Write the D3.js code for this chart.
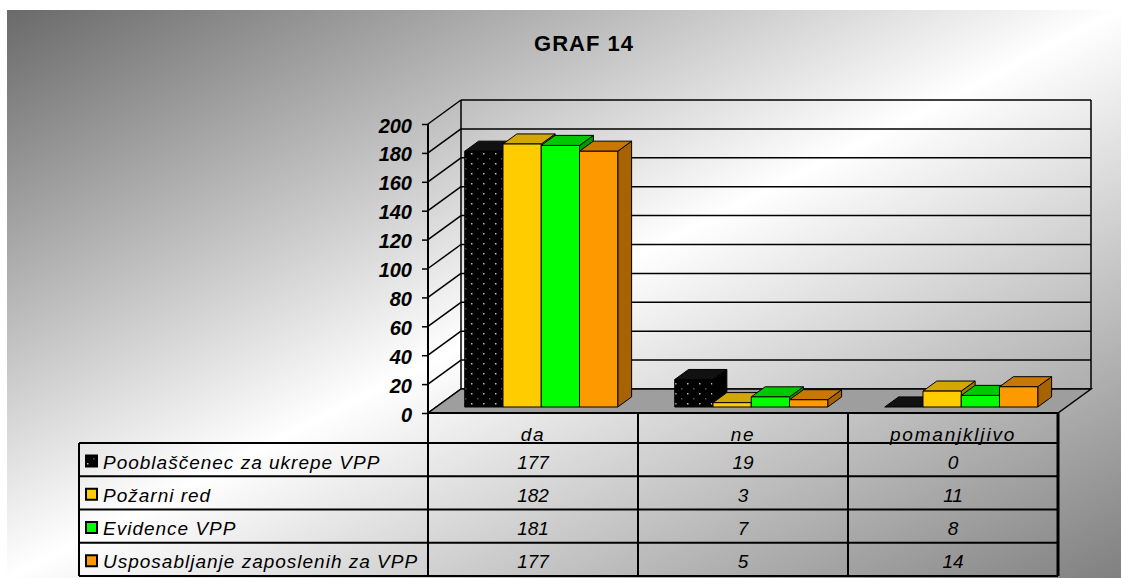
<!DOCTYPE html>
<html lang="sl">
    <head>
        <meta charset="utf-8">
        <title>GRAF 14</title>
        <script src="https://cdn.jsdelivr.net/npm/d3@7/dist/d3.min.js"></script>
        <style type="text/css">
            body { margin: 0; background: #fff; }
            svg { display: block; font-family: "Liberation Sans", Arial, sans-serif; }
        </style>
    </head>
    <body>
        <script type="text/javascript">
            // data
            var categories = ['da', 'ne', 'pomanjkljivo'];
            var seriesNames = ['Pooblaščenec za ukrepe VPP', 'Požarni red', 'Evidence VPP', 'Usposabljanje zaposlenih za VPP'];
            var pooblascenec = [177, 19, 0];
            var pozarniRed = [182, 3, 11];
            var evidence = [181, 7, 8];
            var usposabljanje = [177, 5, 14];
            var yTicks = [0, 20, 40, 60, 80, 100, 120, 140, 160, 180, 200];

            var seriesValues = [pooblascenec, pozarniRed, evidence, usposabljanje];

            // colours: front, top, side
            var palette = [
              ['url(#dots)', '#111', '#000'],
              ['#ffcc00', '#d2a800', '#9c7c00'],
              ['#00ff00', '#00c800', '#009a00'],
              ['#ff9900', '#c87800', '#a86200']
            ];

            var w = 1121, h = 578;
            var depth = {dx: 33, dy: -24};
            var t1 = 0.25, t2 = 0.67;   // bar position in the depth

            var svg = d3.select('body').append('svg')
                        .attr('width', w)
                        .attr('height', h);

            var defs = svg.append('defs');
            var grad = defs.append('linearGradient')
                           .attr('id', 'bg')
                           .attr('x1', 0).attr('y1', 0).attr('x2', 1).attr('y2', 1);
            grad.append('stop').attr('offset', 0).attr('stop-color', '#6a6a6a');
            grad.append('stop').attr('offset', 0.5).attr('stop-color', '#ffffff');
            grad.append('stop').attr('offset', 1).attr('stop-color', '#808080');

            var pat = defs.append('pattern')
                          .attr('id', 'dots')
                          .attr('patternUnits', 'userSpaceOnUse')
                          .attr('width', 12).attr('height', 10);
            pat.append('rect').attr('width', 12).attr('height', 10).attr('fill', '#000');
            pat.append('rect').attr('x', 3).attr('y', 3).attr('width', 1.5).attr('height', 1.5).attr('fill', '#bbb');
            pat.append('rect').attr('x', 9).attr('y', 8).attr('width', 1.5).attr('height', 1.5).attr('fill', '#555');

            svg.append('rect')
               .attr('x', 7).attr('y', 10)
               .attr('width', w - 7).attr('height', h - 10)
               .attr('fill', 'url(#bg)');

            // title
            svg.append('text')
               .attr('x', 584).attr('y', 51)
               .attr('text-anchor', 'middle')
               .attr('font-weight', 'bold')
               .attr('font-size', '22px')
               .attr('letter-spacing', '1px')
               .text('GRAF 14');

            // scales
            var left = 428, right = 1058;
            var yScale = d3.scaleLinear().domain([0, 200]).range([413, 124]);
            var xScale = d3.scaleBand().domain(categories).range([left, right]);
            var xSeries = d3.scaleBand().domain(seriesNames)
                            .range([0, xScale.bandwidth()])
                            .paddingOuter(0.745);

            var y0 = yScale(0);

            // left wall and back wall grid
            var grid = svg.append('g').attr('stroke', '#000').attr('stroke-width', 1.5).attr('fill', 'none');
            grid.selectAll('line.side')
                .data(yTicks)
                .enter()
                .append('line')
                .attr('x1', left).attr('y1', function(d) { return yScale(d); })
                .attr('x2', left + depth.dx).attr('y2', function(d) { return yScale(d) + depth.dy; });
            grid.selectAll('line.back')
                .data(yTicks)
                .enter()
                .append('line')
                .attr('x1', left + depth.dx).attr('y1', function(d) { return yScale(d) + depth.dy; })
                .attr('x2', right + depth.dx).attr('y2', function(d) { return yScale(d) + depth.dy; });
            grid.append('line')
                .attr('x1', left + depth.dx).attr('y1', yScale(200) + depth.dy)
                .attr('x2', left + depth.dx).attr('y2', y0 + depth.dy);
            grid.append('line')
                .attr('x1', right + depth.dx).attr('y1', yScale(200) + depth.dy)
                .attr('x2', right + depth.dx).attr('y2', y0 + depth.dy);

            // floor
            svg.append('polygon')
               .attr('points', [[left, y0], [right, y0], [right + depth.dx, y0 + depth.dy], [left + depth.dx, y0 + depth.dy]].join(' '))
               .attr('fill', '#9e9e9e')
               .attr('stroke', '#000')
               .attr('stroke-width', 1.5);

            // bars
            function box(g, xa, xb, yb, yt, ci) {
              var dx = (t2 - t1) * depth.dx, dy = (t2 - t1) * depth.dy;
              var c = palette[ci];
              g.append('polygon')
               .attr('points', [[xb, yt], [xb + dx, yt + dy], [xb + dx, yb + dy], [xb, yb]].join(' '))
               .attr('fill', c[2]);
              g.append('polygon')
               .attr('points', [[xa, yt], [xb, yt], [xb + dx, yt + dy], [xa + dx, yt + dy]].join(' '))
               .attr('fill', c[1]);
              g.append('rect')
               .attr('x', xa).attr('y', yt)
               .attr('width', xb - xa).attr('height', yb - yt)
               .attr('fill', c[0]);
            }

            var bars = svg.append('g').attr('stroke', '#000').attr('stroke-width', 1).attr('stroke-linejoin', 'round');
            categories.forEach(function(cat, i) {
              seriesNames.forEach(function(s, j) {
                var xa = xScale(cat) + xSeries(s) + t1 * depth.dx;
                var xb = xa + xSeries.bandwidth();
                var yb = y0 + t1 * depth.dy;
                var yt = yScale(seriesValues[j][i]) + t1 * depth.dy;
                box(bars, xa, xb, yb, yt, j);
              });
            });

            // y axis
            var yAxis = d3.axisLeft(yScale)
                          .tickValues(yTicks)
                          .tickSize(6)
                          .tickSizeOuter(0)
                          .tickPadding(10);
            var ax = svg.append('g')
                        .attr('transform', 'translate(' + left + ',0)')
                        .call(yAxis);
            ax.select('.domain').remove();
            ax.selectAll('.tick line').attr('stroke', '#000').attr('stroke-width', 1.5);
            ax.selectAll('.tick text')
              .attr('font-family', '"Liberation Sans", Arial, sans-serif')
              .attr('font-size', '20px')
              .attr('font-weight', 'bold')
              .attr('font-style', 'italic')
              .attr('fill', '#000')
              .attr('dy', '0.4em');

            // front axis line through the table
            svg.append('line')
               .attr('x1', left).attr('y1', yScale(200))
               .attr('x2', left).attr('y2', 576)
               .attr('stroke', '#000').attr('stroke-width', 2);

            // data table
            var tableLeft = 79, headTop = 413, rowTop = 443, rowH = 33.25;
            var tbl = svg.append('g').attr('stroke', '#000').attr('stroke-width', 2).attr('fill', 'none');
            tbl.append('line').attr('x1', left).attr('x2', right).attr('y1', headTop).attr('y2', headTop);
            d3.range(seriesNames.length + 1).forEach(function(k) {
              tbl.append('line')
                 .attr('x1', tableLeft).attr('x2', right)
                 .attr('y1', rowTop + k * rowH).attr('y2', rowTop + k * rowH);
            });
            tbl.append('line').attr('x1', tableLeft).attr('x2', tableLeft).attr('y1', rowTop).attr('y2', rowTop + 4 * rowH);
            categories.forEach(function(cat) {
              tbl.append('line')
                 .attr('x1', xScale(cat) + xScale.bandwidth()).attr('x2', xScale(cat) + xScale.bandwidth())
                 .attr('y1', headTop).attr('y2', rowTop + 4 * rowH)
                 .attr('stroke-width', cat === 'pomanjkljivo' ? 3 : 2);
            });

            var txt = svg.append('g')
                         .attr('font-size', '19px')
                         .attr('font-style', 'italic')
                         .attr('fill', '#000');
            txt.selectAll('text.head')
               .data(categories)
               .enter()
               .append('text')
               .attr('x', function(d) { return xScale(d) + xScale.bandwidth() / 2; })
               .attr('y', 441)
               .attr('text-anchor', 'middle')
               .attr('letter-spacing', '1.8px')
               .text(function(d) { return d; });

            seriesNames.forEach(function(s, j) {
              var by = rowTop + j * rowH + 25.5;
              svg.append('rect')
                 .attr('x', 86).attr('y', by - 13)
                 .attr('width', 11).attr('height', 11)
                 .attr('fill', palette[j][0])
                 .attr('stroke', '#000').attr('stroke-width', 2);
              txt.append('text')
                 .attr('x', 103).attr('y', by)
                 .attr('letter-spacing', '1px')
                 .text(s);
              categories.forEach(function(cat, i) {
                txt.append('text')
                   .attr('x', xScale(cat) + xScale.bandwidth() / 2)
                   .attr('y', by)
                   .attr('text-anchor', 'middle')
                   .text(seriesValues[j][i]);
              });
            });
        </script>
    </body>
</html>
